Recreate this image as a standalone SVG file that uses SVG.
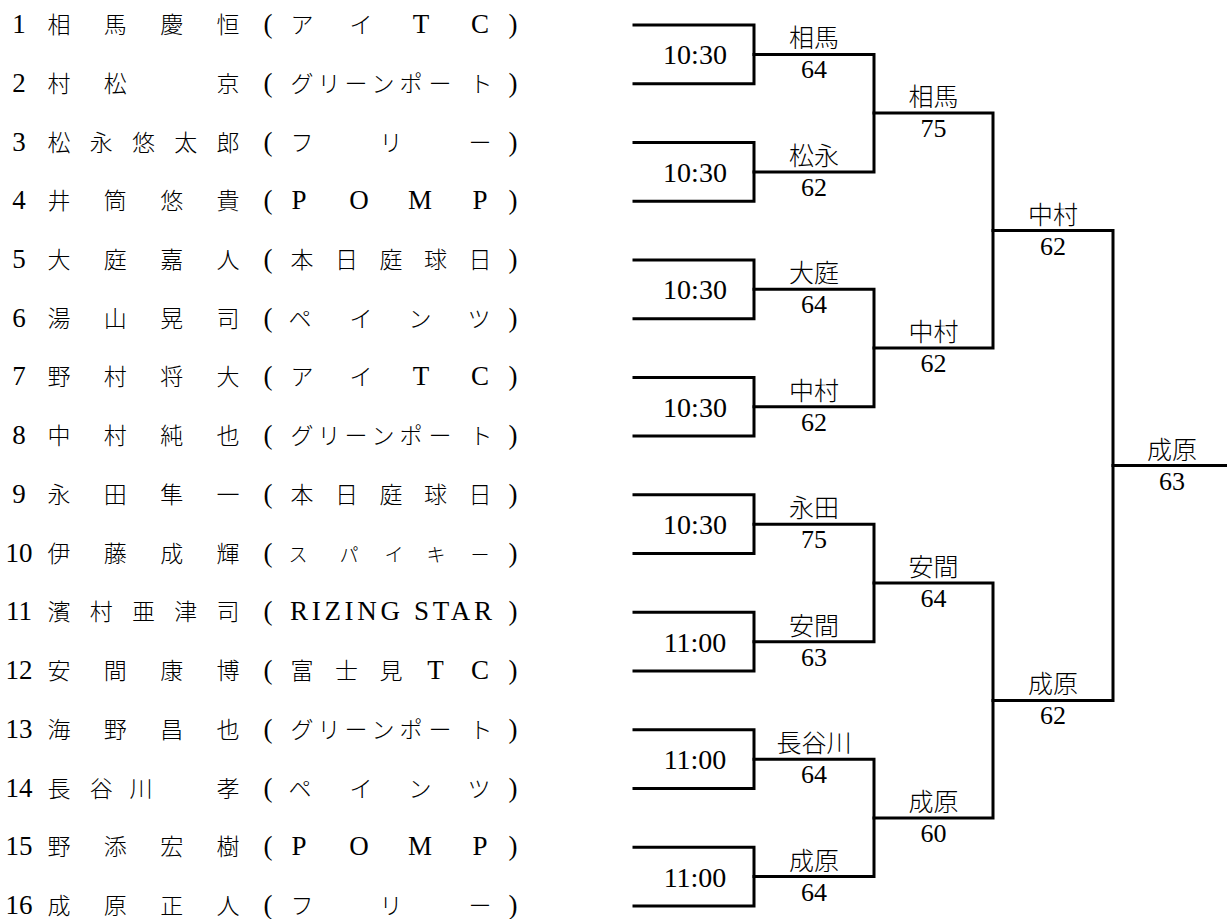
<svg xmlns="http://www.w3.org/2000/svg" width="1227" height="919" viewBox="0 0 1227 919">
<style>
text{font-family:"Noto Sans CJK JP","Noto Sans CJK SC",sans-serif;fill:#000;text-anchor:middle;font-weight:300}
.l,.tm,.s,.p{font-family:"Liberation Serif","Times New Roman","DejaVu Serif",serif;font-weight:400}
.n{font-size:23px}
.l{font-size:27px}
.p{font-size:27px}
.k{font-size:19px}
.tm{font-size:28px}
.w{font-size:25px}
.s{font-size:26px}
.ln{fill:none;stroke:#000;stroke-width:3;stroke-linejoin:miter;stroke-linecap:square}
</style>
<rect width="1227" height="919" fill="#fff"/>
<g id="connectors" class="ln">
<path d="M634 25H754V83.7H634"/>
<path d="M634 142.5H754V201.2H634"/>
<path d="M634 259.9H754V318.7H634"/>
<path d="M634 377.4H754V436.1H634"/>
<path d="M634 494.8H754V553.6H634"/>
<path d="M634 612.3H754V671H634"/>
<path d="M634 729.8H754V788.5H634"/>
<path d="M634 847.2H754V906H634"/>
<path d="M754 54.4H874V171.9H754"/>
<path d="M754 289.3H874V406.8H754"/>
<path d="M754 524.2H874V641.7H754"/>
<path d="M754 759.2H874V876.6H754"/>
<path d="M874 113.1H993V348H874"/>
<path d="M874 582.9H993V817.9H874"/>
<path d="M993 230.6H1113V700.4H993"/>
<path d="M1113 465.5H1227"/>
</g>
<g id="p1"><text class="n" y="33"><tspan class="l" x="19">1</tspan><tspan x="59">相</tspan><tspan x="115.3">馬</tspan><tspan x="171.7">慶</tspan><tspan x="228">恒</tspan><tspan class="p" x="268">(</tspan><tspan x="302">ア</tspan><tspan x="361">イ</tspan><tspan class="l" x="421">T</tspan><tspan class="l" x="480">C</tspan><tspan class="p" x="513">)</tspan></text></g>
<g id="p2"><text class="n" y="91.7"><tspan class="l" x="19">2</tspan><tspan x="59">村</tspan><tspan x="115.3">松</tspan><tspan x="228">京</tspan><tspan class="p" x="268">(</tspan><tspan x="302">グ</tspan><tspan x="329">リ</tspan><tspan x="356">ー</tspan><tspan x="383">ン</tspan><tspan x="411">ポ</tspan><tspan x="440">ー</tspan><tspan x="481">ト</tspan><tspan class="p" x="513">)</tspan></text></g>
<g id="p3"><text class="n" y="150.5"><tspan class="l" x="19">3</tspan><tspan x="59">松</tspan><tspan x="101.3">永</tspan><tspan x="143.5">悠</tspan><tspan x="185.8">太</tspan><tspan x="228">郎</tspan><tspan class="p" x="268">(</tspan><tspan x="302">フ</tspan><tspan x="391">リ</tspan><tspan x="480">ー</tspan><tspan class="p" x="513">)</tspan></text></g>
<g id="p4"><text class="n" y="209.2"><tspan class="l" x="19">4</tspan><tspan x="59">井</tspan><tspan x="115.3">筒</tspan><tspan x="171.7">悠</tspan><tspan x="228">貴</tspan><tspan class="p" x="268">(</tspan><tspan class="l" x="299">P</tspan><tspan class="l" x="359">O</tspan><tspan class="l" x="420">M</tspan><tspan class="l" x="480">P</tspan><tspan class="p" x="513">)</tspan></text></g>
<g id="p5"><text class="n" y="267.9"><tspan class="l" x="19">5</tspan><tspan x="59">大</tspan><tspan x="115.3">庭</tspan><tspan x="171.7">嘉</tspan><tspan x="228">人</tspan><tspan class="p" x="268">(</tspan><tspan x="302">本</tspan><tspan x="346.5">日</tspan><tspan x="391">庭</tspan><tspan x="435.5">球</tspan><tspan x="480">日</tspan><tspan class="p" x="513">)</tspan></text></g>
<g id="p6"><text class="n" y="326.7"><tspan class="l" x="19">6</tspan><tspan x="59">湯</tspan><tspan x="115.3">山</tspan><tspan x="171.7">晃</tspan><tspan x="228">司</tspan><tspan class="p" x="268">(</tspan><tspan x="300">ペ</tspan><tspan x="361">イ</tspan><tspan x="420">ン</tspan><tspan x="479">ツ</tspan><tspan class="p" x="513">)</tspan></text></g>
<g id="p7"><text class="n" y="385.4"><tspan class="l" x="19">7</tspan><tspan x="59">野</tspan><tspan x="115.3">村</tspan><tspan x="171.7">将</tspan><tspan x="228">大</tspan><tspan class="p" x="268">(</tspan><tspan x="302">ア</tspan><tspan x="361">イ</tspan><tspan class="l" x="421">T</tspan><tspan class="l" x="480">C</tspan><tspan class="p" x="513">)</tspan></text></g>
<g id="p8"><text class="n" y="444.1"><tspan class="l" x="19">8</tspan><tspan x="59">中</tspan><tspan x="115.3">村</tspan><tspan x="171.7">純</tspan><tspan x="228">也</tspan><tspan class="p" x="268">(</tspan><tspan x="302">グ</tspan><tspan x="329">リ</tspan><tspan x="356">ー</tspan><tspan x="383">ン</tspan><tspan x="411">ポ</tspan><tspan x="440">ー</tspan><tspan x="481">ト</tspan><tspan class="p" x="513">)</tspan></text></g>
<g id="p9"><text class="n" y="502.8"><tspan class="l" x="19">9</tspan><tspan x="59">永</tspan><tspan x="115.3">田</tspan><tspan x="171.7">隼</tspan><tspan x="228">一</tspan><tspan class="p" x="268">(</tspan><tspan x="302">本</tspan><tspan x="346.5">日</tspan><tspan x="391">庭</tspan><tspan x="435.5">球</tspan><tspan x="480">日</tspan><tspan class="p" x="513">)</tspan></text></g>
<g id="p10"><text class="n" y="561.6"><tspan class="l" x="19">10</tspan><tspan x="59">伊</tspan><tspan x="115.3">藤</tspan><tspan x="171.7">成</tspan><tspan x="228">輝</tspan><tspan class="p" x="268">(</tspan><tspan class="k" x="298">ス</tspan><tspan class="k" x="349">パ</tspan><tspan class="k" x="394">イ</tspan><tspan class="k" x="436">キ</tspan><tspan class="k" x="480">ー</tspan><tspan class="p" x="513">)</tspan></text></g>
<g id="p11"><text class="n" y="620.3"><tspan class="l" x="19">11</tspan><tspan x="59">濱</tspan><tspan x="101.3">村</tspan><tspan x="143.5">亜</tspan><tspan x="185.8">津</tspan><tspan x="228">司</tspan><tspan class="p" x="268">(</tspan><tspan class="l" x="391" textLength="202" lengthAdjust="spacing">RIZING STAR</tspan><tspan class="p" x="513">)</tspan></text></g>
<g id="p12"><text class="n" y="679"><tspan class="l" x="19">12</tspan><tspan x="59">安</tspan><tspan x="115.3">間</tspan><tspan x="171.7">康</tspan><tspan x="228">博</tspan><tspan class="p" x="268">(</tspan><tspan x="302">富</tspan><tspan x="346.5">士</tspan><tspan x="391">見</tspan><tspan class="l" x="435.5">T</tspan><tspan class="l" x="480">C</tspan><tspan class="p" x="513">)</tspan></text></g>
<g id="p13"><text class="n" y="737.8"><tspan class="l" x="19">13</tspan><tspan x="59">海</tspan><tspan x="115.3">野</tspan><tspan x="171.7">昌</tspan><tspan x="228">也</tspan><tspan class="p" x="268">(</tspan><tspan x="302">グ</tspan><tspan x="329">リ</tspan><tspan x="356">ー</tspan><tspan x="383">ン</tspan><tspan x="411">ポ</tspan><tspan x="440">ー</tspan><tspan x="481">ト</tspan><tspan class="p" x="513">)</tspan></text></g>
<g id="p14"><text class="n" y="796.5"><tspan class="l" x="19">14</tspan><tspan x="59">長</tspan><tspan x="101.3">谷</tspan><tspan x="141">川</tspan><tspan x="228">孝</tspan><tspan class="p" x="268">(</tspan><tspan x="300">ペ</tspan><tspan x="361">イ</tspan><tspan x="420">ン</tspan><tspan x="479">ツ</tspan><tspan class="p" x="513">)</tspan></text></g>
<g id="p15"><text class="n" y="855.2"><tspan class="l" x="19">15</tspan><tspan x="59">野</tspan><tspan x="115.3">添</tspan><tspan x="171.7">宏</tspan><tspan x="228">樹</tspan><tspan class="p" x="268">(</tspan><tspan class="l" x="299">P</tspan><tspan class="l" x="359">O</tspan><tspan class="l" x="420">M</tspan><tspan class="l" x="480">P</tspan><tspan class="p" x="513">)</tspan></text></g>
<g id="p16"><text class="n" y="914"><tspan class="l" x="19">16</tspan><tspan x="59">成</tspan><tspan x="115.3">原</tspan><tspan x="171.7">正</tspan><tspan x="228">人</tspan><tspan class="p" x="268">(</tspan><tspan x="302">フ</tspan><tspan x="391">リ</tspan><tspan x="480">ー</tspan><tspan class="p" x="513">)</tspan></text></g>
<g id="m1"><text class="tm" x="695" y="64.4">10:30</text><text class="w" x="814" y="47.4">相馬</text><text class="s" x="814" y="78.4">64</text></g>
<g id="m2"><text class="tm" x="695" y="181.9">10:30</text><text class="w" x="814" y="164.9">松永</text><text class="s" x="814" y="195.9">62</text></g>
<g id="m3"><text class="tm" x="695" y="299.3">10:30</text><text class="w" x="814" y="282.3">大庭</text><text class="s" x="814" y="313.3">64</text></g>
<g id="m4"><text class="tm" x="695" y="416.8">10:30</text><text class="w" x="814" y="399.8">中村</text><text class="s" x="814" y="430.8">62</text></g>
<g id="m5"><text class="tm" x="695" y="534.2">10:30</text><text class="w" x="814" y="517.2">永田</text><text class="s" x="814" y="548.2">75</text></g>
<g id="m6"><text class="tm" x="695" y="651.7">11:00</text><text class="w" x="814" y="634.7">安間</text><text class="s" x="814" y="665.7">63</text></g>
<g id="m7"><text class="tm" x="695" y="769.2">11:00</text><text class="w" x="814" y="752.2">長谷川</text><text class="s" x="814" y="783.2">64</text></g>
<g id="m8"><text class="tm" x="695" y="886.6">11:00</text><text class="w" x="814" y="869.6">成原</text><text class="s" x="814" y="900.6">64</text></g>
<g id="r2a"><text class="w" x="933.5" y="106.1">相馬</text><text class="s" x="933.5" y="137.1">75</text></g>
<g id="r2b"><text class="w" x="933.5" y="341">中村</text><text class="s" x="933.5" y="372">62</text></g>
<g id="r2c"><text class="w" x="933.5" y="575.9">安間</text><text class="s" x="933.5" y="606.9">64</text></g>
<g id="r2d"><text class="w" x="933.5" y="810.9">成原</text><text class="s" x="933.5" y="841.9">60</text></g>
<g id="r3a"><text class="w" x="1053" y="223.6">中村</text><text class="s" x="1053" y="254.6">62</text></g>
<g id="r3b"><text class="w" x="1053" y="693.4">成原</text><text class="s" x="1053" y="724.4">62</text></g>
<g id="final"><text class="w" x="1172" y="458.5">成原</text><text class="s" x="1172" y="489.5">63</text></g>
</svg>
